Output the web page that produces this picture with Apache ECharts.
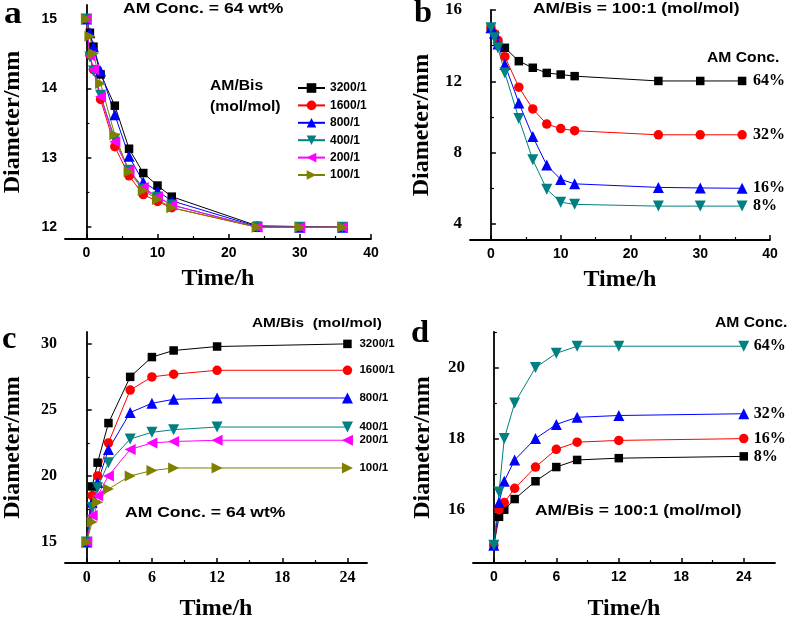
<!DOCTYPE html>
<html><head><meta charset="utf-8">
<script src="https://cdn.jsdelivr.net/npm/echarts@6/dist/echarts.min.js"></script>
<style>html,body{margin:0;padding:0;background:#fff}#c{width:787px;height:622px}</style>
</head><body><div id="c"></div>
<script>
// ---------- data ----------
const timeAB = [0, 0.5, 1, 2, 4, 6, 8, 10, 12, 24, 30, 36];
const timeCD = [0, 0.5, 1, 2, 4, 6, 8, 12, 24];

// panel a (AM Conc. = 64 wt%, varying AM/Bis)
const a3200 = [15, 14.8, 14.6, 14.2, 13.75, 13.13, 12.78, 12.6, 12.44, 12.02, 12.01, 12.0];
const a1600 = [15, 14.48, 14.27, 13.84, 13.16, 12.74, 12.47, 12.37, 12.28, 12.0, 12.0, 12.0];
const a800  = [15, 14.8, 14.6, 14.25, 13.62, 13.02, 12.65, 12.52, 12.38, 12.01, 12.0, 12.0];
const a400  = [15, 14.45, 14.25, 13.9, 13.27, 12.82, 12.55, 12.43, 12.32, 12.0, 12.0, 12.0];
const a200  = [15, 14.47, 14.27, 13.88, 13.23, 12.82, 12.57, 12.44, 12.32, 12.0, 12.0, 12.0];
const a100  = [15, 14.75, 14.5, 14.07, 13.33, 12.8, 12.53, 12.4, 12.28, 12.0, 12.0, 12.0];

// panel b (AM/Bis = 100:1, varying AM conc.)
const b64 = [15, 14.6, 14.2, 13.88, 13.13, 12.76, 12.47, 12.38, 12.29, 12.02, 12.02, 12.02];
const b32 = [15, 14.67, 14.3, 13.38, 11.67, 10.45, 9.6, 9.35, 9.23, 9.0, 9.0, 9.0];
const b16 = [15, 14.7, 14.1, 12.94, 10.79, 8.9, 7.3, 6.5, 6.25, 6.05, 6.02, 6.0];
const b8  = [15, 14.44, 13.88, 12.47, 9.91, 7.6, 5.95, 5.22, 5.1, 5.0, 5.0, 5.0];

// panel c (AM Conc. = 64 wt%, varying AM/Bis)
const c3200 = [15, 19.2, 21.0, 24.0, 27.5, 29.0, 29.5, 29.8, 30.0];
const c1600 = [15, 18.5, 20.0, 22.5, 26.5, 27.5, 27.7, 28.0, 28.0];
const c800  = [15, 18.0, 19.5, 22.0, 24.8, 25.5, 25.8, 25.9, 25.9];
const c400  = [15, 17.6, 19.1, 21.0, 22.8, 23.3, 23.5, 23.7, 23.7];
const c200  = [15, 17.0, 18.5, 20.0, 22.0, 22.5, 22.6, 22.7, 22.7];
const c100  = [15, 16.5, 18.0, 19.0, 20.0, 20.4, 20.6, 20.6, 20.6];

// panel d (AM/Bis = 100:1, varying AM conc.)
const d64 = [15, 16.5, 18.0, 19.0, 20.0, 20.4, 20.6, 20.6, 20.6];
const d32 = [15, 16.2, 16.8, 17.4, 18.0, 18.4, 18.6, 18.65, 18.7];
const d16 = [15, 16.0, 16.2, 16.6, 17.2, 17.7, 17.9, 17.95, 18.0];
const d8  = [15, 15.8, 16.0, 16.3, 16.8, 17.2, 17.4, 17.45, 17.5];

// tick values
const aYTicks = [12, 13, 14, 15], aYMinor = [12.5, 13.5, 14.5];
const abXTicks = [0, 10, 20, 30, 40], abXMinor = [5, 15, 25, 35];
const bYTicks = [4, 8, 12, 16], bYMinor = [6, 10, 14];
const cYTicks = [15, 20, 25, 30], cYMinor = [17.5, 22.5, 27.5];
const cdXTicks = [0, 6, 12, 18, 24], cdXMinor = [3, 9, 15, 21];
const dYTicks = [16, 18, 20], dYMinor = [15, 17, 19, 21];

// ---------- styling helpers ----------
const SERIF = 'Liberation Serif, Times New Roman, serif';
const SANS = 'Liberation Sans, Arial, sans-serif';
const COL = {black: '#000000', red: '#ff0000', blue: '#0000ff', teal: '#008080', magenta: '#ff00ff', olive: '#808000'};
const SYM = {
  sq: {symbol: 'rect', symbolSize: 8.5, symbolRotate: 0},
  ci: {symbol: 'circle', symbolSize: 9.5, symbolRotate: 0},
  up: {symbol: 'triangle', symbolSize: 11, symbolRotate: 0},
  dn: {symbol: 'triangle', symbolSize: 11, symbolRotate: 180},
  lt: {symbol: 'triangle', symbolSize: 11, symbolRotate: 90},
  rt: {symbol: 'triangle', symbolSize: 11, symbolRotate: -90}
};

const grids = [
  {left: 63, right: 416, top: 5, bottom: 383},
  {left: 470, right: 17, top: 10, bottom: 382},
  {left: 63, right: 420, top: 332, bottom: 57},
  {left: 473, right: 12, top: 332, bottom: 57}
];

const xAxes = [], yAxes = [];
function addAxes(g, xr, yr, xt, xm, yt, ym, xFont, yFont, xSize, ySize, yGap, xGap) {
  const line = {show: true, lineStyle: {color: '#000', width: 1.8}};
  xAxes.push({
    type: 'value', gridIndex: g, position: 'bottom', min: xr[0], max: xr[1],
    axisLine: line, splitLine: {show: false},
    axisTick: {show: true, inside: true, length: 5, customValues: xt, lineStyle: {color: '#000', width: 1.5}},
    axisLabel: {customValues: xt, color: '#000', fontFamily: xFont, fontWeight: 'bold', fontSize: xSize, margin: 7},
    name: 'Time/h', nameLocation: 'middle', nameGap: xGap,
    nameTextStyle: {fontFamily: SERIF, fontWeight: 'bold', fontSize: 24, color: '#000'}
  });
  xAxes.push({
    type: 'value', gridIndex: g, position: 'bottom', min: xr[0], max: xr[1],
    axisLine: {show: false}, splitLine: {show: false}, axisLabel: {show: false},
    axisTick: {show: true, inside: true, length: 3, customValues: xm, lineStyle: {color: '#000', width: 1.2}}
  });
  yAxes.push({
    type: 'value', gridIndex: g, position: 'left', min: yr[0], max: yr[1],
    axisLine: line, splitLine: {show: false},
    axisTick: {show: true, inside: true, length: 5, customValues: yt, lineStyle: {color: '#000', width: 1.5}},
    axisLabel: {customValues: yt, color: '#000', fontFamily: yFont, fontWeight: 'bold', fontSize: ySize, margin: 8},
    name: 'Diameter/mm', nameLocation: 'middle', nameGap: yGap,
    nameTextStyle: {fontFamily: SERIF, fontWeight: 'bold', fontSize: 24, color: '#000'}
  });
  yAxes.push({
    type: 'value', gridIndex: g, position: 'left', min: yr[0], max: yr[1],
    axisLine: {show: false}, splitLine: {show: false}, axisLabel: {show: false},
    axisTick: {show: true, inside: true, length: 3, customValues: ym, lineStyle: {color: '#000', width: 1.2}}
  });
}
addAxes(0, [-3, 40], [11.83, 15.2], abXTicks, abXMinor, aYTicks, aYMinor, SANS, SANS, 14, 14, 40, 28);
addAxes(1, [-3, 40], [3.1, 16], abXTicks, abXMinor, bYTicks, bYMinor, SANS, SERIF, 14, 17, 36, 28);
addAxes(2, [-2, 25.8], [13.4, 30.9], cdXTicks, cdXMinor, cYTicks, cYMinor, SERIF, SERIF, 16, 16, 40, 34);
addAxes(3, [-2, 27], [14.5, 21], cdXTicks, cdXMinor, dYTicks, dYMinor, SANS, SERIF, 14, 17, 38, 34);

const series = [];
function addSeries(panel, name, times, vals, color, sym, endText, endStyle) {
  const s = Object.assign({
    type: 'line', name: name, xAxisIndex: panel * 2, yAxisIndex: panel * 2,
    data: times.map((t, i) => [t, vals[i]]),
    lineStyle: {color: color, width: 1}, itemStyle: {color: color},
    showAllSymbol: true, animation: false, z: 3
  }, sym);
  if (endText) {
    s.endLabel = Object.assign({show: true, formatter: endText, color: '#000', fontWeight: 'bold'}, endStyle);
  }
  series.push(s);
}
addSeries(0, '3200/1', timeAB, a3200, COL.black, SYM.sq);
addSeries(0, '1600/1', timeAB, a1600, COL.red, SYM.ci);
addSeries(0, '800/1', timeAB, a800, COL.blue, SYM.up);
addSeries(0, '400/1', timeAB, a400, COL.teal, SYM.dn);
addSeries(0, '200/1', timeAB, a200, COL.magenta, SYM.lt);
addSeries(0, '100/1', timeAB, a100, COL.olive, SYM.rt);

const bStyle = {fontFamily: SERIF, fontSize: 16, distance: 11};
addSeries(1, 'b64', timeAB, b64, COL.black, SYM.sq, '64%', bStyle);
addSeries(1, 'b32', timeAB, b32, COL.red, SYM.ci, '32%', bStyle);
addSeries(1, 'b16', timeAB, b16, COL.blue, SYM.up, '16%', bStyle);
addSeries(1, 'b8', timeAB, b8, COL.teal, SYM.dn, '8%', bStyle);

const cStyle = {fontFamily: SANS, fontSize: 11.5, distance: 12};
addSeries(2, 'c3200', timeCD, c3200, COL.black, SYM.sq, '3200/1', cStyle);
addSeries(2, 'c1600', timeCD, c1600, COL.red, SYM.ci, '1600/1', cStyle);
addSeries(2, 'c800', timeCD, c800, COL.blue, SYM.up, '800/1', cStyle);
addSeries(2, 'c400', timeCD, c400, COL.teal, SYM.dn, '400/1', cStyle);
addSeries(2, 'c200', timeCD, c200, COL.magenta, SYM.lt, '200/1', cStyle);
addSeries(2, 'c100', timeCD, c100, COL.olive, SYM.rt, '100/1', cStyle);

const dStyle = {fontFamily: SERIF, fontSize: 16, distance: 10};
addSeries(3, 'd8', timeCD, d8, COL.black, SYM.sq, '8%', dStyle);
addSeries(3, 'd16', timeCD, d16, COL.red, SYM.ci, '16%', dStyle);
addSeries(3, 'd32', timeCD, d32, COL.blue, SYM.up, '32%', dStyle);
addSeries(3, 'd64', timeCD, d64, COL.teal, SYM.dn, '64%', dStyle);

function txt(x, y, text, font, size, sx) {
  return {type: 'text', x: x, y: y, scaleX: sx || 1,
    style: {text: text, font: 'bold ' + size + 'px ' + font, fill: '#000', textVerticalAlign: 'middle'}};
}
const graphic = [
  txt(4, 15, 'a', SERIF, 31, 1.15),
  txt(123, 9, 'AM Conc. = 64 wt%', SANS, 15, 1.17),
  txt(210, 86, 'AM/Bis', SANS, 14, 1.12),
  txt(210, 107, '(mol/mol)', SANS, 14, 1.12),
  txt(414, 14, 'b', SERIF, 31, 1.05),
  txt(533, 9, 'AM/Bis = 100:1 (mol/mol)', SANS, 15, 1.16),
  txt(707, 58, 'AM Conc.', SANS, 14, 1.12),
  txt(2, 340, 'c', SERIF, 31, 1.05),
  txt(252, 323, 'AM/Bis  (mol/mol)', SANS, 13.5, 1.14),
  txt(125, 513, 'AM Conc. = 64 wt%', SANS, 15, 1.17),
  txt(411, 334, 'd', SERIF, 31, 1.05),
  txt(715, 323, 'AM Conc.', SANS, 14, 1.12),
  txt(535, 511, 'AM/Bis = 100:1 (mol/mol)', SANS, 15, 1.16)
];

const chart = echarts.init(document.getElementById('c'), null, {renderer: 'canvas'});
chart.setOption({
  animation: false,
  backgroundColor: '#fff',
  grid: grids,
  xAxis: xAxes,
  yAxis: yAxes,
  series: series,
  graphic: graphic,
  legend: {
    orient: 'vertical', left: 292, top: 77,
    data: ['3200/1', '1600/1', '800/1', '400/1', '200/1', '100/1'],
    itemWidth: 27, itemHeight: 12, itemGap: 5.4,
    textStyle: {fontFamily: SANS, fontWeight: 'bold', fontSize: 12, color: '#000'},
    selectedMode: false
  }
});
</script></body></html>
